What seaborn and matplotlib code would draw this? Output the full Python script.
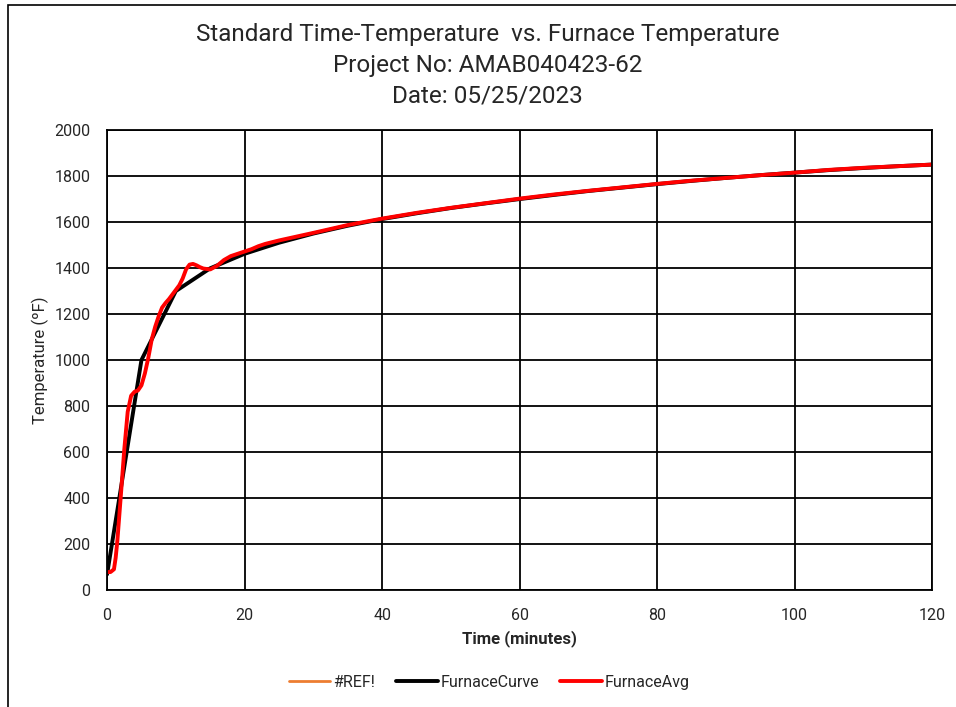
import matplotlib
matplotlib.use('Agg')
import matplotlib.pyplot as plt
import seaborn as sns
import pandas as pd

# ── Data ──────────────────────────────────────────────────────
# standard time-temperature curve (min, degF)
curve_time = [0, 5, 10, 15, 20, 25, 30, 35, 40, 45, 50, 55, 60, 65, 70, 75,
              80, 85, 90, 95, 100, 105, 110, 115, 120]
curve_temp = [68, 1000, 1300, 1399, 1462, 1510, 1550, 1584, 1613, 1638, 1661,
              1681, 1700, 1718, 1735, 1750, 1765, 1779, 1792, 1804, 1815,
              1826, 1835, 1843, 1850]

# furnace average
avg_time = [0, 0.5, 1.0, 1.25, 1.5, 2.0, 2.5, 3.0, 3.5, 4.0, 4.5, 5.0, 5.5,
            6.0, 6.5, 7.0, 7.5, 8.0, 8.5, 9.0, 9.5, 10.0, 10.5, 11.0, 11.5,
            12.0, 12.5, 13.0, 13.5, 14.0, 15.0, 16.0, 17.0, 18.0, 19.0, 20.0,
            21, 22, 23, 25, 30, 35, 40, 45, 50, 55, 60, 65, 70, 75, 80, 85,
            90, 95, 100, 105, 110, 115, 120]
avg_temp = [78, 78, 90, 140, 215, 410, 610, 775, 845, 862, 868, 890, 942,
            1010, 1090, 1145, 1190, 1228, 1248, 1265, 1285, 1305, 1325, 1355,
            1395, 1415, 1418, 1412, 1404, 1398, 1394, 1410, 1435, 1452, 1462,
            1472, 1482, 1495, 1505, 1520, 1553, 1587, 1615, 1640, 1662, 1682,
            1702, 1720, 1736, 1751, 1766, 1780, 1792, 1804, 1815, 1827, 1836,
            1843, 1850]

# broken reference series (no values)
ref_time = []
ref_temp = []

x_ticks = [0, 20, 40, 60, 80, 100, 120]
y_ticks = [0, 200, 400, 600, 800, 1000, 1200, 1400, 1600, 1800, 2000]

sns.set_style('white')
plt.rcParams['font.family'] = ['Roboto', 'DejaVu Sans']

fig = plt.figure(figsize=(9.56, 7.07), dpi=100)
ax = fig.add_axes([0.112, 0.1655, 0.863, 0.6505])

df_curve = pd.DataFrame({'t': curve_time, 'T': curve_temp})
df_avg = pd.DataFrame({'t': avg_time, 'T': avg_temp})

ax.plot(ref_time, ref_temp, color='#ED7D31', lw=2, label='#REF!')
sns.lineplot(data=df_curve, x='t', y='T', ax=ax, color='black', lw=2.8,
             sort=False, label='FurnaceCurve')
sns.lineplot(data=df_avg, x='t', y='T', ax=ax, color='#FF0000', lw=2.8,
             sort=False, label='FurnaceAvg')

ax.set_xlim(0, 120)
ax.set_ylim(0, 2000)
ax.set_xticks(x_ticks)
ax.set_yticks(y_ticks)
ax.tick_params(axis='both', length=0, labelsize=11.5)
ax.tick_params(axis='x', pad=13)
ax.tick_params(axis='y', pad=12)
ax.grid(True, color='black', lw=1.3)
for s in ax.spines.values():
    s.set_color('black')
    s.set_linewidth(1.3)

ax.set_xlabel('Time (minutes)', fontsize=12, fontweight='bold', labelpad=5)
ax.set_ylabel('Temperature (ºF)', fontsize=12, labelpad=4)

title_lines = ['Standard Time-Temperature  vs. Furnace Temperature',
               'Project No: AMAB040423-62', 'Date: 05/25/2023']
for i, line in enumerate(title_lines):
    fig.text(0.51, 0.951 - i * 0.0437, line, ha='center', va='center',
             fontsize=17.5)

ax.legend(loc='center', bbox_to_anchor=(0.512, 0.035),
          bbox_transform=fig.transFigure, ncol=3, frameon=False,
          fontsize=11.5, handlelength=2.6, handletextpad=0.2,
          columnspacing=1.3)

# chart frame
fig.patches.append(plt.Rectangle((8 / 956, -0.05), 1.2, 1 - 5 / 707 + 0.05,
                                 transform=fig.transFigure, fill=False,
                                 edgecolor='black', lw=1.2))

fig.savefig('out.png', dpi=100)
